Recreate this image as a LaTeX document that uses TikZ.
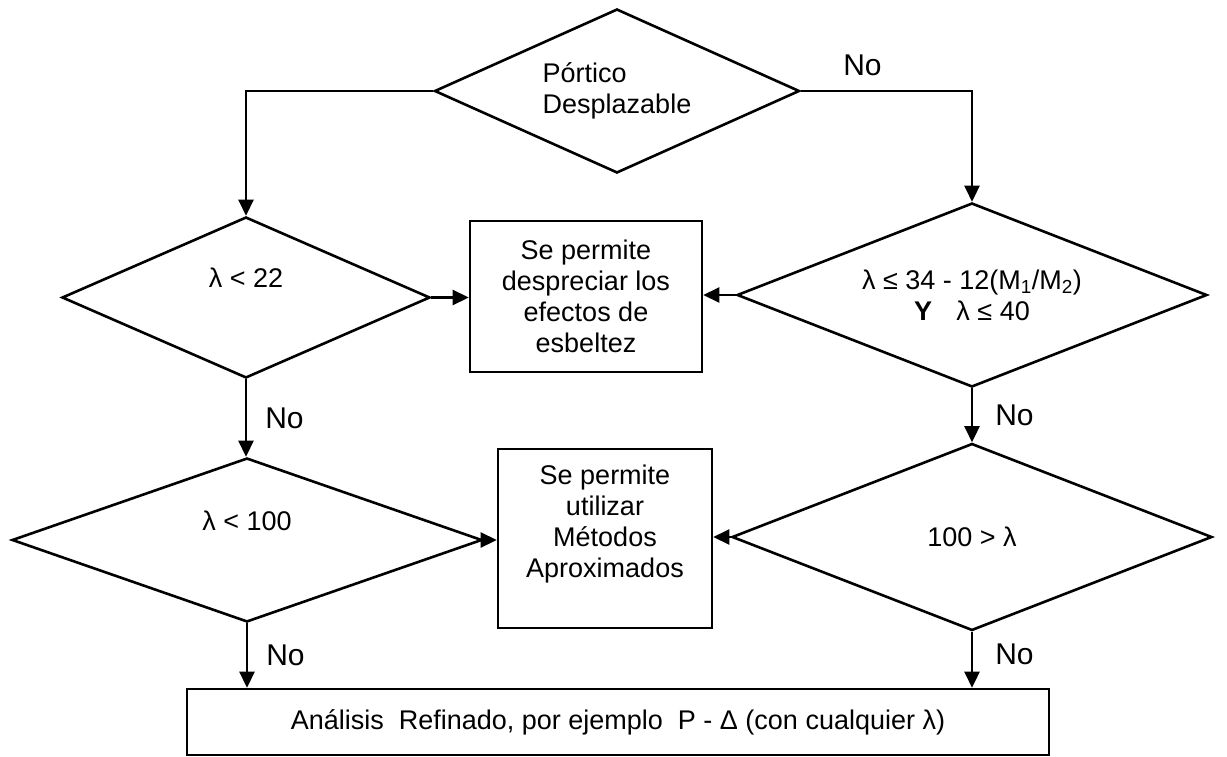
\documentclass[tikz,border=0pt]{standalone}
\usepackage{fontspec}
\setmainfont{Liberation Sans}
\usetikzlibrary{arrows.meta,positioning,shapes.geometric,calc}
\newcommand{\fsz}{\fontsize{27}{31}\selectfont}
\newcommand{\nsz}{\fontsize{30}{34}\selectfont}
\tikzset{
  dec/.style={draw,shape=diamond,shape aspect=2.5,line width=2.6pt,inner sep=0pt,align=center,font=\fsz},
  box/.style={draw,line width=2.6pt,inner sep=0pt,align=center,font=\fsz},
  lbl/.style={font=\nsz,inner sep=0pt},
  ar/.style={-{Triangle[length=16pt,width=15pt]},line width=2.6pt},
}

\begin{document}
\begin{tikzpicture}[x=1pt,y=-1pt]
\useasboundingbox (0,0) rectangle (1227,757);

% decisions
\node[dec,align=left,minimum width=365pt,minimum height=164pt] (port) at (617,91) {Pórtico\\Desplazable};
\node[dec,minimum width=368pt,minimum height=161pt] (lam22) at (246,297.5) {λ < 22\\[8pt]\mbox{}};
\node[dec,minimum width=470pt,minimum height=184pt] (lamM) at (972,295) {λ ≤ 34 - 12(M\textsubscript{1}/M\textsubscript{2})\\\textbf{Y}\hspace{0.9em}λ ≤ 40};
\node[dec,minimum width=470pt,minimum height=164pt] (lam100) at (247,540) {λ < 100\\[8pt]\mbox{}};
\node[dec,minimum width=480pt,minimum height=187pt] (lamgt) at (972,537) {100 > λ};

% outcomes
\node[box,minimum width=232pt,minimum height=151pt] (negl) at (586,296.5) {Se permite\\despreciar los\\efectos de\\esbeltez};
\node[box,minimum width=214pt,minimum height=179pt] (aprox) at (605,538.5) {Se permite\\utilizar\\Métodos\\Aproximados\\[4pt]\mbox{}};
\node[box,minimum width=862pt,minimum height=66pt] (refin) at (618,722) {Análisis~ Refinado, por ejemplo~ P - Δ (con cualquier λ)};

% arrows
\draw[ar] (port.west) -| (lam22.north);
\draw[ar] (port.east) -| node[lbl,above=14pt,pos=0.18] (no0) {No} (lamM.north);
\draw[ar] (lam22.east) -- (lam22.east -| negl.west);
\draw[ar] (lamM.west) -- (lamM.west -| negl.east);
\draw[ar] (lam22.south) -- node[lbl,right=18pt] (no1) {No} (lam22.south |- lam100.north);
\draw[ar] (lamM.south) -- node[lbl,right=22pt] (no2) {No} (lamM.south |- lamgt.north);
\draw[ar] (lam100.east) -- (lam100.east -| aprox.west);
\draw[ar] (lamgt.west) -- (lamgt.west -| aprox.east);
\draw[ar] (lam100.south) -- node[lbl,right=18pt] (no3) {No} (lam100.south |- refin.north);
\draw[ar] (lamgt.south) -- node[lbl,right=22pt,pos=0.4] (no4) {No} (lamgt.south |- refin.north);
\end{tikzpicture}
\end{document}
